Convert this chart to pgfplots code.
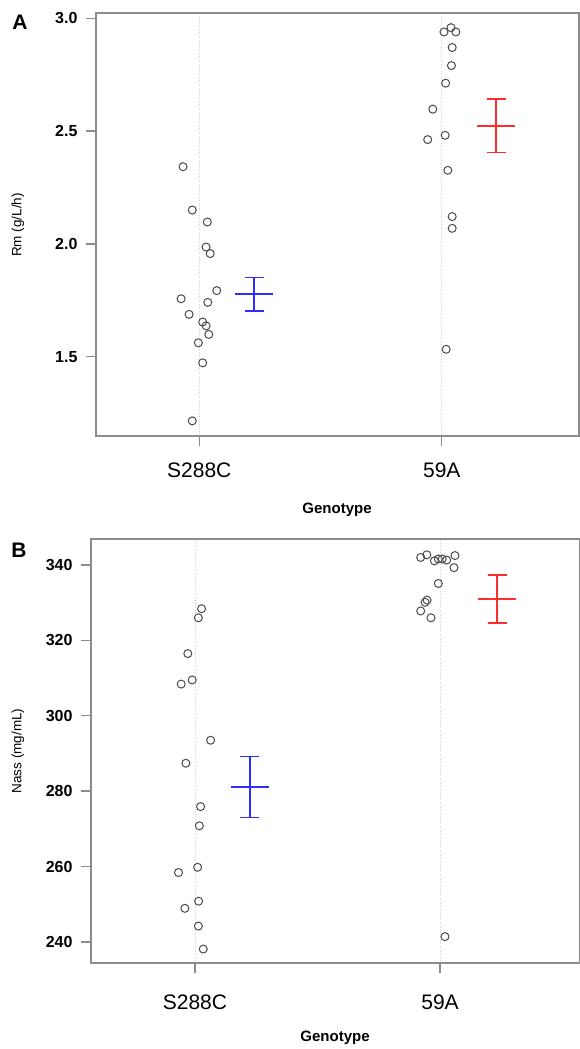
\documentclass[border=0pt]{standalone}
\usepackage{fontspec}
\setmainfont{Liberation Sans}
\usepackage{pgfplots}
\pgfplotsset{compat=1.18}
\definecolor{ebblue}{RGB}{45,45,255}
\definecolor{ebred}{RGB}{255,45,45}
\definecolor{ptgray}{RGB}{75,75,75}
\definecolor{axgray}{RGB}{140,140,140}
\pgfplotsset{rstyle/.style={
  scale only axis,
  axis line style={axgray, line width=1.3pt},
  tick style={axgray, line width=1.3pt},
  tick align=outside, xtick pos=bottom, ytick pos=left,
  major tick length=10pt,
  xtick={1,2}, xticklabels={S288C,59A},
  xmajorgrids, major x grid style={dotted, gray!35, line width=0.8pt},
  xticklabel style={font=\fontsize{21}{21}\selectfont},
  yticklabel style={font=\bfseries\fontsize{16}{16}\selectfont, xshift=-5pt},
  /pgf/number format/assume math mode=true,
}}
\pgfplotsset{pts/.style={only marks, mark=o, mark size=4pt, mark options={ptgray, line width=1.0pt}}}
\pgfplotsset{eb/.style={color=#1, line width=1.6pt, mark=-, mark size=19pt, mark options={color=#1, line width=1.6pt},
    error bars/.cd, y dir=both, y explicit,
    error bar style={line width=1.6pt, color=#1},
    error mark options={color=#1, rotate=90, mark size=9.5pt, line width=1.6pt}}}
\begin{document}
\begin{tikzpicture}
\path[use as bounding box] (0,0) rectangle (580pt,1049pt);
% Panel A
\begin{axis}[rstyle, at={(96pt,613pt)}, anchor=south west,
  width=483pt, height=423pt,
  xmin=0.574, xmax=2.566, ymin=1.149, ymax=3.023,
  ytick={1.5,2.0,2.5,3.0},
  xticklabel style={yshift=-13pt},
  yticklabel style={/pgf/number format/.cd, fixed, fixed zerofill, precision=1}]
\addplot[pts] coordinates {
(0.933,2.342) (0.971,2.150) (1.033,2.097) (1.028,1.986) (1.045,1.957)
(1.072,1.793) (0.925,1.757) (1.035,1.741) (0.958,1.688) (1.014,1.654)
(1.028,1.637) (1.039,1.599) (0.996,1.562) (1.014,1.473) (0.971,1.216)};
\addplot[pts] coordinates {
(2.009,2.939) (2.038,2.958) (2.058,2.939) (2.043,2.870) (2.040,2.790)
(2.016,2.712) (1.963,2.597) (2.014,2.481) (1.942,2.462) (2.025,2.326)
(2.043,2.121) (2.043,2.069) (2.018,1.533)};
\addplot[eb=ebblue] coordinates {(1.226,1.777) +- (0,0.075)};
\addplot[eb=ebred] coordinates {(2.224,2.523) +- (0,0.118)};
\end{axis}
% Panel B
\begin{axis}[rstyle, at={(91pt,86pt)}, anchor=south west,
  width=489pt, height=424pt,
  xmin=0.576, xmax=2.571, ymin=234.4, ymax=346.9,
  xticklabel style={yshift=-18pt},
  ytick={240,260,...,340}]
\addplot[pts] coordinates {
(1.027,328.4) (1.014,326.0) (0.971,316.5) (0.989,309.5) (0.944,308.4)
(1.064,293.5) (0.963,287.4) (1.023,275.9) (1.018,270.8) (1.011,259.8)
(0.933,258.4) (1.015,250.8) (0.959,248.9) (1.014,244.2) (1.034,238.1)};
\addplot[pts] coordinates {
(1.921,342.0) (1.946,342.7) (1.977,341.1) (1.993,341.6) (2.009,341.6)
(2.027,341.3) (2.061,342.5) (2.057,339.3) (1.993,335.1) (1.947,330.7)
(1.939,330.1) (1.921,327.8) (1.963,326.0) (2.020,241.4)};
\addplot[eb=ebblue] coordinates {(1.224,281.1) +- (0,8.1)};
\addplot[eb=ebred] coordinates {(2.233,331.0) +- (0,6.4)};
\end{axis}
% labels
\node[font=\bfseries\fontsize{21}{21}\selectfont] at (20pt,1027pt) {A};
\node[font=\bfseries\fontsize{21}{21}\selectfont] at (19pt,499pt) {B};
\node[rotate=90, font=\fontsize{13.5}{13.5}\selectfont] at (18pt,824pt) {Rm (g/L/h)};
\node[rotate=90, font=\fontsize{13.5}{13.5}\selectfont] at (18pt,298pt) {Nass (mg/mL)};
\node[font=\bfseries\fontsize{15}{15}\selectfont] at (337pt,539pt) {Genotype};
\node[font=\bfseries\fontsize{15}{15}\selectfont] at (335pt,11pt) {Genotype};
\end{tikzpicture}
\end{document}
